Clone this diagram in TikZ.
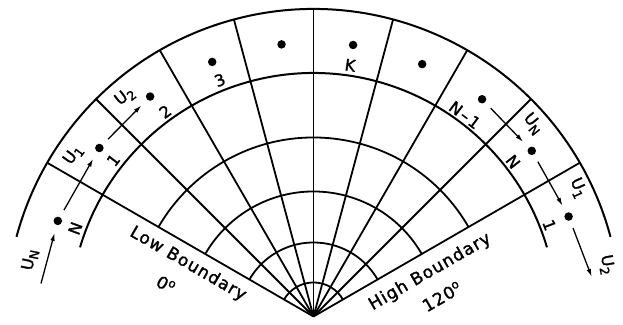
\documentclass[tikz,border=0pt]{standalone}
\usepackage{fontspec}
\setmainfont{DejaVu Sans}
\usetikzlibrary{arrows.meta}
\newcommand\lowsub[1]{\raisebox{-3.5pt}{\fontsize{12.5}{12.5}\selectfont #1}}
\begin{document}
\begin{tikzpicture}[x=1pt,y=1pt,
  grid/.style={line width=1.8pt},
  rim/.style={line width=2pt},
  dot/.style={circle,fill=black,draw=none,inner sep=0pt,minimum size=8.5pt},
  flow/.style={line width=1.3pt,-{Latex[length=8pt,width=4.6pt]},shorten <=8pt,shorten >=8pt},
  lab/.style={font=\fontsize{16}{16}\selectfont\addfontfeature{FakeBold=1.6},inner sep=0pt},
  blab/.style={font=\fontsize{17}{17}\selectfont\addfontfeature{LetterSpace=6,FakeBold=1.6},inner sep=0pt}
]
\useasboundingbox[fill=white] (0,0) rectangle (623,324);
\begin{scope}[shift={(313.5,7.5)}]
  % grid arcs
  \foreach \r in {34,74,125,179}
    \draw[grid] (30:\r) arc[start angle=30,end angle=150,radius=\r];
  \draw[rim] (16.5:243.5) arc[start angle=16.5,end angle=163.5,radius=243.5];
  \draw[rim] (15:307.5) arc[start angle=15,end angle=165,radius=307.5];
  % radial lines
  \foreach \a in {30,45,...,150}
    \draw[grid] (0,0) -- (\a:307.5);
  % dots
  \node[dot] (dN)  at (159.5:273) {};
  \node[dot] (dA)  at (141.8:272.5) {};
  \node[dot] (dB)  at (126.6:274) {};
  \node[dot] (dC)  at (111.7:274) {};
  \node[dot] (dD)  at (96.7:274) {};
  \node[dot] (dK)  at (81.7:274.4) {};
  \node[dot] (dF)  at (66.7:274.8) {};
  \node[dot] (dM)  at (52.2:275) {};
  \node[dot] (dNr) at (37.2:274) {};
  \node[dot] (dAr) at (21.4:274) {};
  % free ends of arrows
  \coordinate (inL)  at (173.1:274.5);
  \coordinate (outR) at (8.1:281);
  % arrows
  \draw[flow,shorten <=0pt] (inL) -- (dN);
  \draw[flow] (dN) -- (dA);
  \draw[flow] (dA) -- (dB);
  \draw[flow] (dM) -- (dNr);
  \draw[flow] (dNr) -- (dAr);
  \draw[flow,shorten >=0pt] (dAr) -- (outR);
  % labels
  \node[lab,rotate=78.7] (tUNl) at (168.7:289) {U\lowsub{N}};
  \node[lab,rotate=69.7] (tNl)  at (159.7:254) {N};
  \node[lab,rotate=54]   (tU1)  at (146.1:289.4) {U\lowsub{1}};
  \node[lab,rotate=52]   (t1)   at (142:254) {1};
  \node[lab,rotate=38]   (tU2)  at (130.6:289.6) {U\lowsub{2}};
  \node[lab,rotate=36]   (t2)   at (125.9:253) {2};
  \node[lab,rotate=21.6] (t3)   at (111.6:254.3) {3};
  \node[lab,rotate=-8.3] (tK)   at (81.7:254) {K};
  \node[lab,rotate=-37]  (tNm)  at (53.1:252) {N\kern2pt–\kern2pt1};
  \node[lab,rotate=-51]  (tUNr) at (41.3:292) {U\lowsub{N}};
  \node[lab,rotate=-52]  (tNr)  at (37.8:252.5) {N};
  \node[lab,rotate=-66]  (tU1r) at (25.9:294) {U\lowsub{1}};
  \node[lab,rotate=-69]  (t1r)  at (21.2:253) {1};
  \node[lab,rotate=-80]  (tU2r) at (10:297.7) {U\lowsub{2}};
  % boundary labels
  \node[blab,rotate=-30] (lowb)  at (-125.5,52.5) {Low Boundary};
  \node[blab,rotate=-30] (lowd)  at (-147.5,32) {0\textsuperscript{o}};
  \node[blab,rotate=30]  (highb) at (116.5,44.5) {High Boundary};
  \node[blab,rotate=30]  (highd) at (128.5,20) {120\textsuperscript{o}};
\end{scope}
\end{tikzpicture}
\end{document}
